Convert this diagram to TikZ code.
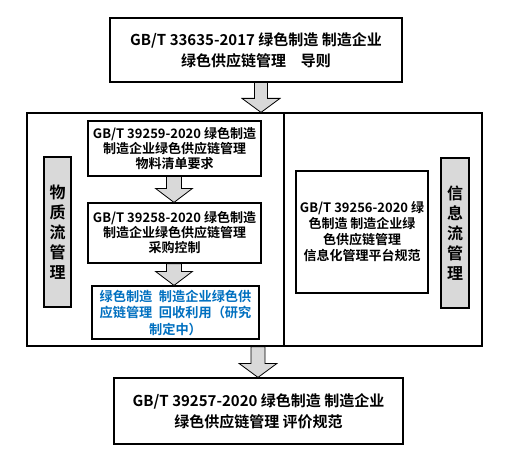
\documentclass[tikz,border=0pt]{standalone}
\usepackage{fontspec}
\setmainfont{Noto Sans CJK SC}[BoldFont={Noto Sans CJK SC Bold}]
\usetikzlibrary{calc}
\definecolor{lgray}{HTML}{D9D9D9}
\definecolor{tblue}{HTML}{0070C0}
\tikzset{
  box/.style={draw=black, line width=1.2pt, fill=white, align=center, inner sep=0pt, font=\bfseries},
  graylbl/.style={draw=black, line width=1.2pt, fill=lgray, align=center, inner sep=0pt, font=\fontsize{16}{20}\selectfont\bfseries},
  blockarr/.style={draw=black, line width=0.8pt, fill=lgray, line join=miter}
}
\newcommand\bigarrow[5]{% from node, to node, x center, shaft half width, head half width
  \path[blockarr] let \p1=(#1.south), \p2=(#2.north) in
    ({#3pt-#4pt},\y1) -- ({#3pt-#4pt},\y2+14pt) -- ({#3pt-#5pt},\y2+14pt) --
    ({#3pt},\y2) -- ({#3pt+#5pt},\y2+14pt) -- ({#3pt+#4pt},\y2+14pt) --
    ({#3pt+#4pt},\y1) -- cycle;}
\begin{document}
\begin{tikzpicture}[x=1pt,y=-1pt]
\useasboundingbox (0,0) rectangle (510,454);
\node[box, minimum width=292pt, minimum height=64pt, font=\fontsize{15}{21}\selectfont\bfseries] (top) at (256,50)
  {GB/T 33635-2017 绿色制造 制造企业\\绿色供应链管理\quad 导则};
\node[draw=black, line width=1.2pt, minimum width=455pt, minimum height=233pt, inner sep=0pt] (cont) at (254.5,229.5) {};
\draw[line width=1.2pt] (cont.north -| 284,0) -- (cont.south -| 284,0);
\node[box, minimum width=173pt, minimum height=55pt, font=\fontsize{13}{15}\selectfont\bfseries] (b1) at (174.5,148.5)
  {GB/T 39259-2020 绿色制造\\制造企业绿色供应链管理\\物料清单要求};
\node[box, minimum width=173pt, minimum height=60pt, font=\fontsize{13}{15}\selectfont\bfseries] (b2) at (174.5,233)
  {GB/T 39258-2020 绿色制造\\制造企业绿色供应链管理\\采购控制};
\node[box, minimum width=167pt, minimum height=53pt, text=tblue, font=\fontsize{13.2}{16.5}\selectfont\bfseries] (b3) at (175.5,312.5)
  {绿色制造\enspace 制造企业绿色供\\应链管理\enspace 回收利用（研究\\制定中）};
\node[graylbl, minimum width=27pt, minimum height=150pt] (lg) at (57.5,232) {物\\质\\流\\管\\理};
\node[box, minimum width=132pt, minimum height=122pt, font=\fontsize{13}{16}\selectfont\bfseries] (rb) at (362,232)
  {GB/T 39256-2020 绿\\色制造 制造企业绿\\色供应链管理\\信息化管理平台规范};
\node[graylbl, minimum width=28pt, minimum height=150pt] (rg) at (455,233) {信\\息\\流\\管\\理};
\node[box, minimum width=289pt, minimum height=66pt, font=\fontsize{15}{21}\selectfont\bfseries] (bot) at (258.5,411)
  {GB/T 39257-2020 绿色制造 制造企业\\绿色供应链管理 评价规范};
\bigarrow{top}{cont}{261}{6.5}{19}
\bigarrow{b1}{b2}{174}{7.5}{18.5}
\bigarrow{b2}{b3}{174}{7.5}{18.5}
\bigarrow{cont}{bot}{258}{7}{19}
\end{tikzpicture}
\end{document}
